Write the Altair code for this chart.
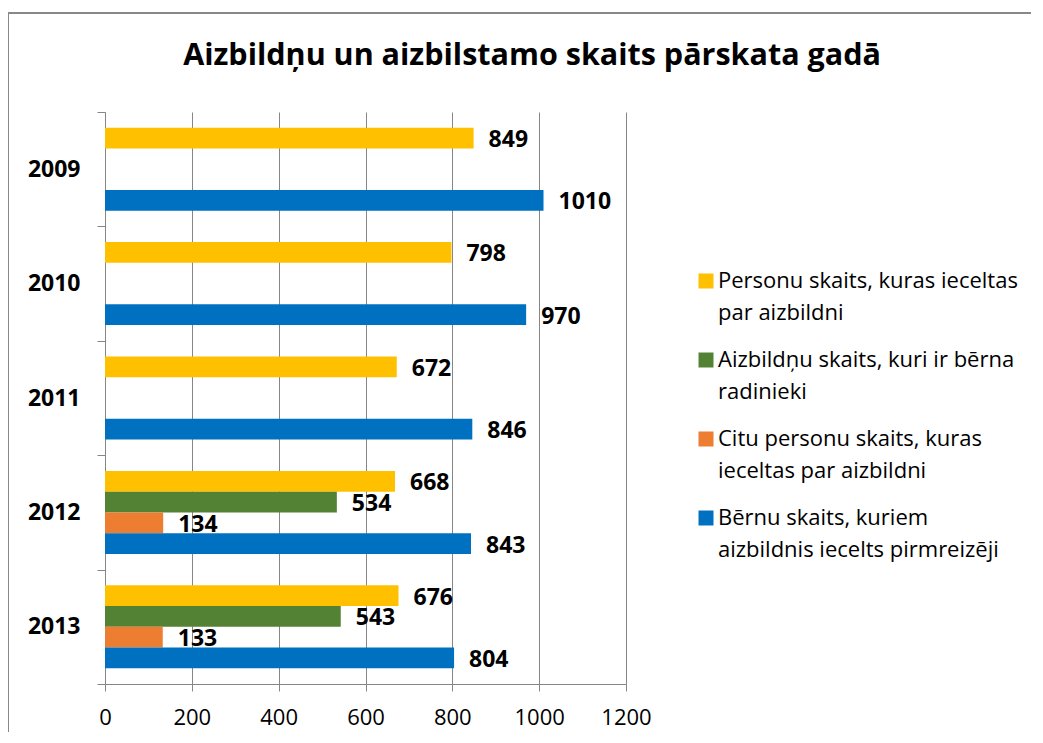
import altair as alt
import pandas as pd

# ---- data ----
years = ["2009", "2010", "2011", "2012", "2013"]
series = [
    "Personu skaits, kuras ieceltas par aizbildni",
    "Aizbildņu skaits, kuri ir bērna radinieki",
    "Citu personu skaits, kuras ieceltas par aizbildni",
    "Bērnu skaits, kuriem aizbildnis iecelts pirmreizēji",
]
legend_lines = [
    ["Personu skaits, kuras ieceltas", "par aizbildni"],
    ["Aizbildņu skaits, kuri ir bērna", "radinieki"],
    ["Citu personu skaits, kuras", "ieceltas par aizbildni"],
    ["Bērnu skaits, kuriem", "aizbildnis iecelts pirmreizēji"],
]
colors = ["#FFC000", "#548235", "#ED7D31", "#0070C0"]
personu = [849, 798, 672, 668, 676]
radinieki = [None, None, None, 534, 543]
citu = [None, None, None, 134, 133]
berni = [1010, 970, 846, 843, 804]
x_ticks = [0, 200, 400, 600, 800, 1000, 1200]
title_text = "Aizbildņu un aizbilstamo skaits pārskata gadā"

rows = []
for s, vals in zip(series, [personu, radinieki, citu, berni]):
    for y, v in zip(years, vals):
        if v is not None:
            rows.append({"year": y, "series": s, "value": v})
df = pd.DataFrame(rows)

# legend label expression: split each name into two lines
expr = "datum.label"
for name, lines in reversed(list(zip(series, legend_lines))):
    arr = "[" + ", ".join("'" + l + "'" for l in lines) + "]"
    expr = f"datum.label == '{name}' ? {arr} : ({expr})"

FONT = "Open Sans"
GRAY = "#868686"

base = alt.Chart(df).encode(
    y=alt.Y(
        "year:N",
        scale=alt.Scale(domain=years, paddingInner=0, paddingOuter=0),
        axis=alt.Axis(
            title=None,
            labelFont=FONT,
            labelFontSize=23,
            labelFontWeight="bold",
            labelColor="black",
            tickBand="extent",
            tickSize=8,
            tickColor=GRAY,
            domainColor=GRAY,
            labelPadding=17,
            grid=False,
        ),
    ),
    yOffset=alt.YOffset(
        "series:N", scale=alt.Scale(domain=series, paddingInner=0, paddingOuter=0.757)
    ),
    x=alt.X(
        "value:Q",
        scale=alt.Scale(domain=[0, 1200], nice=False),
        axis=alt.Axis(
            title=None,
            values=x_ticks,
            format="d",
            grid=True,
            gridColor=GRAY,
            tickSize=7,
            tickColor=GRAY,
            domainColor=GRAY,
            labelFont=FONT,
            labelFontSize=22,
            labelColor="black",
            labelPadding=16,
            labelFlush=False,
            labelOverlap=False,
        ),
    ),
)

bars = base.mark_bar().encode(
    color=alt.Color(
        "series:N",
        scale=alt.Scale(domain=series, range=colors),
        legend=alt.Legend(
            title=None,
            orient="none",
            legendX=590,
            legendY=158,
            symbolType="square",
            symbolSize=225,
            symbolStrokeWidth=0,
            labelFont=FONT,
            labelFontSize=22,
            labelColor="black",
            labelLimit=420,
            labelOffset=1,
            rowPadding=25,
            padding=0,
            labelExpr=expr,
        ),
    )
)

labels = base.mark_text(
    align="left",
    baseline="middle",
    dx=15,
    dy=2,
    font=FONT,
    fontSize=23,
    fontWeight="bold",
    color="black",
).encode(text="value:Q")

title = alt.Chart(pd.DataFrame({"t": [title_text]})).mark_text(
    font=FONT, fontSize=30.5, fontWeight="bold", color="black",
    align="center", baseline="middle",
).encode(text="t:N", x=alt.value(427), y=alt.value(-56))

border = alt.Chart(pd.DataFrame({"a": [0]})).mark_rect(
    fillOpacity=0, stroke="#888888", strokeWidth=2
).encode(x=alt.value(-97), x2=alt.value(1500), y=alt.value(-99), y2=alt.value(1500))

chart = (
    alt.layer(border, bars, labels, title)
    .properties(
        width=521,
        height=572,
        autosize=alt.AutoSizeParams(type="none"),
        padding={"left": 97, "top": 104, "right": 405, "bottom": 48},
        background="white",
    )
    .configure(style={"guide-label": {"lineHeight": 32}})
    .configure_view(strokeWidth=0)
)

chart.save("out.html", embed_options={"renderer": "svg", "actions": False})
